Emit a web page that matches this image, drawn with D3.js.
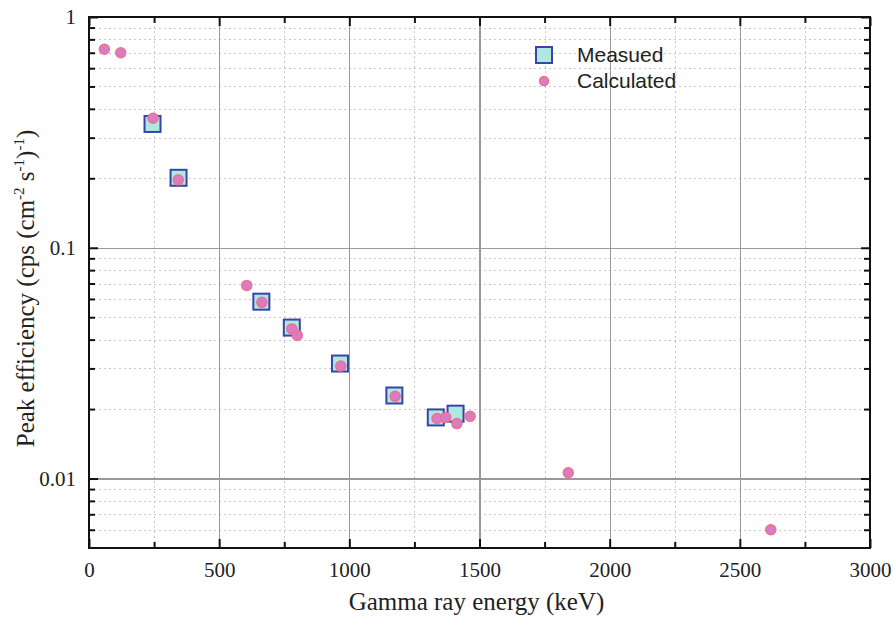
<!DOCTYPE html>
<head>
  <meta charset="utf-8">
  <script src="https://cdn.jsdelivr.net/npm/d3@7/dist/d3.min.js"></script>
  <style>
    body { margin:0; background-color: white; }
    .tick text { font-family: 'Liberation Serif', 'Times New Roman', serif; font-size: 21px; fill: #222; }
    .grid line { shape-rendering: crispEdges; }
    .grid path { display: none; }
    .frame path { display: none; }
    .frame line { stroke: #111; stroke-width: 2px; }
    .label { font-family: 'Liberation Serif', 'Times New Roman', serif; fill: #222; }
    .legend text { font-family: 'Liberation Sans', Arial, sans-serif; font-size: 21px; fill: #222; }
  </style>
</head>
<body>
  <svg id="chart" width="895" height="617"></svg>
  <script>
  // measured peak efficiencies
  var measEnergy = [244, 344, 662, 779, 964, 1173, 1332, 1408];
  var measEff = [0.344, 0.201, 0.0584, 0.0451, 0.0315, 0.0229, 0.0184, 0.0191];

  // calculated peak efficiencies
  var calcEnergy = [59, 122, 246, 343, 606, 664, 779, 800, 967, 1176, 1337, 1370, 1413, 1464, 1841, 2619];
  var calcEff = [0.725, 0.70, 0.364, 0.197, 0.0687, 0.058, 0.0445, 0.0417, 0.0307, 0.0227, 0.0182, 0.0184, 0.0173, 0.0186, 0.0106, 0.0060];

  var xMajor = [0, 500, 1000, 1500, 2000, 2500, 3000];
  var xMinor = [250, 750, 1250, 1750, 2250, 2750];
  var yMajor = [0.01, 0.1, 1];
  var yMinor = [0.006, 0.007, 0.008, 0.009, 0.02, 0.03, 0.04, 0.05, 0.06, 0.07, 0.08, 0.09,
                0.2, 0.3, 0.4, 0.5, 0.6, 0.7, 0.8, 0.9];

  var margin = {top: 17, right: 25, bottom: 69, left: 89},
      width = 895 - margin.left - margin.right,
      height = 617 - margin.top - margin.bottom;

  var svg = d3.select("#chart")
    .append("g")
      .attr("transform", "translate(" + margin.left + "," + margin.top + ")");

  var x = d3.scaleLinear().domain([0, 3000]).range([0, width]);
  var y = d3.scaleLog().domain([0.005, 1]).range([height, 0]);

  // grid lines
  svg.append("g").attr("class", "grid")
      .attr("transform", "translate(0," + height + ")")
      .call(d3.axisBottom(x).tickValues(xMinor).tickSize(-height).tickFormat(""))
      .selectAll("line").attr("stroke", "#c8c8c8").attr("stroke-dasharray", "2,3");
  svg.append("g").attr("class", "grid")
      .call(d3.axisLeft(y).tickValues(yMinor).tickSize(-width).tickFormat(""))
      .selectAll("line").attr("stroke", "#c8c8c8").attr("stroke-dasharray", "2,3");
  svg.append("g").attr("class", "grid")
      .attr("transform", "translate(0," + height + ")")
      .call(d3.axisBottom(x).tickValues(xMajor.slice(1, -1)).tickSize(-height).tickFormat(""))
      .selectAll("line").attr("stroke", "#999").attr("stroke-width", 1.2);
  svg.append("g").attr("class", "grid")
      .call(d3.axisLeft(y).tickValues([0.01, 0.1]).tickSize(-width).tickFormat(""))
      .selectAll("line").attr("stroke", "#999").attr("stroke-width", 1.2);

  // frame
  svg.append("rect")
      .attr("width", width).attr("height", height)
      .attr("fill", "none").attr("stroke", "#111").attr("stroke-width", 2);

  // axes with inward ticks
  svg.append("g").attr("class", "frame")
      .attr("transform", "translate(0," + height + ")")
      .call(d3.axisBottom(x).tickValues(xMajor).tickSizeInner(-9).tickPadding(14).tickFormat(d3.format("d")));
  svg.append("g").attr("class", "frame")
      .attr("transform", "translate(0," + height + ")")
      .call(d3.axisBottom(x).tickValues(xMinor).tickSizeInner(-6).tickFormat(""));
  svg.append("g").attr("class", "frame")
      .call(d3.axisTop(x).tickValues(xMajor).tickSizeInner(-9).tickFormat(""));
  svg.append("g").attr("class", "frame")
      .call(d3.axisTop(x).tickValues(xMinor).tickSizeInner(-6).tickFormat(""));

  svg.append("g").attr("class", "frame")
      .call(d3.axisLeft(y).tickValues(yMajor).tickSizeInner(-9).tickPadding(13)
        .tickFormat(function(d) { return d === 1 ? "1" : d === 0.1 ? "0.1" : "0.01"; }));
  svg.append("g").attr("class", "frame")
      .call(d3.axisLeft(y).tickValues(yMinor).tickSizeInner(-6).tickFormat(""));
  svg.append("g").attr("class", "frame")
      .attr("transform", "translate(" + width + ",0)")
      .call(d3.axisRight(y).tickValues(yMajor).tickSizeInner(-9).tickFormat(""));
  svg.append("g").attr("class", "frame")
      .attr("transform", "translate(" + width + ",0)")
      .call(d3.axisRight(y).tickValues(yMinor).tickSizeInner(-6).tickFormat(""));

  // measured squares
  var sq = 16;
  svg.selectAll(".meas")
      .data(measEnergy.map(function(e, i) { return {e: e, v: measEff[i]}; }))
    .enter().append("rect")
      .attr("class", "meas")
      .attr("x", function(d) { return x(d.e) - sq / 2; })
      .attr("y", function(d) { return y(d.v) - sq / 2; })
      .attr("width", sq).attr("height", sq)
      .attr("fill", "#aee8e2").attr("stroke", "#3a44a8").attr("stroke-width", 2);

  // calculated circles
  svg.selectAll(".calc")
      .data(calcEnergy.map(function(e, i) { return {e: e, v: calcEff[i]}; }))
    .enter().append("circle")
      .attr("class", "calc")
      .attr("cx", function(d) { return x(d.e); })
      .attr("cy", function(d) { return y(d.v); })
      .attr("r", 5)
      .attr("fill", "#d97cc6").attr("stroke", "#f0708a").attr("stroke-width", 1.5);

  // axis labels
  svg.append("text").attr("class", "label")
      .attr("x", width / 2 - 3).attr("y", height + 62)
      .attr("text-anchor", "middle").style("font-size", "25px")
      .text("Gamma ray energy (keV)");

  var yl = svg.append("text").attr("class", "label")
      .attr("transform", "translate(" + (-55) + "," + (height / 2 + 6) + ") rotate(-90)")
      .attr("text-anchor", "middle").style("font-size", "25px");
  yl.append("tspan").text("Peak efficiency (cps (cm");
  yl.append("tspan").attr("dy", -10).style("font-size", "15px").text("-2");
  yl.append("tspan").attr("dy", 10).text(" s");
  yl.append("tspan").attr("dy", -10).style("font-size", "15px").text("-1");
  yl.append("tspan").attr("dy", 10).text(")");
  yl.append("tspan").attr("dy", -10).style("font-size", "15px").text("-1");
  yl.append("tspan").attr("dy", 10).text(")");

  // legend
  var legend = svg.append("g").attr("class", "legend")
      .attr("transform", "translate(" + (544 - margin.left) + "," + (55 - margin.top) + ")");
  legend.append("rect")
      .attr("x", -8).attr("y", -8).attr("width", 16).attr("height", 16)
      .attr("fill", "#aee8e2").attr("stroke", "#3a44a8").attr("stroke-width", 2);
  legend.append("circle")
      .attr("cx", 0).attr("cy", 26).attr("r", 4.5)
      .attr("fill", "#d97cc6").attr("stroke", "#f0708a").attr("stroke-width", 1.5);
  legend.append("text").attr("x", 33).attr("y", 7).text("Measued");
  legend.append("text").attr("x", 33).attr("y", 33).text("Calculated");
  </script>
</body>
